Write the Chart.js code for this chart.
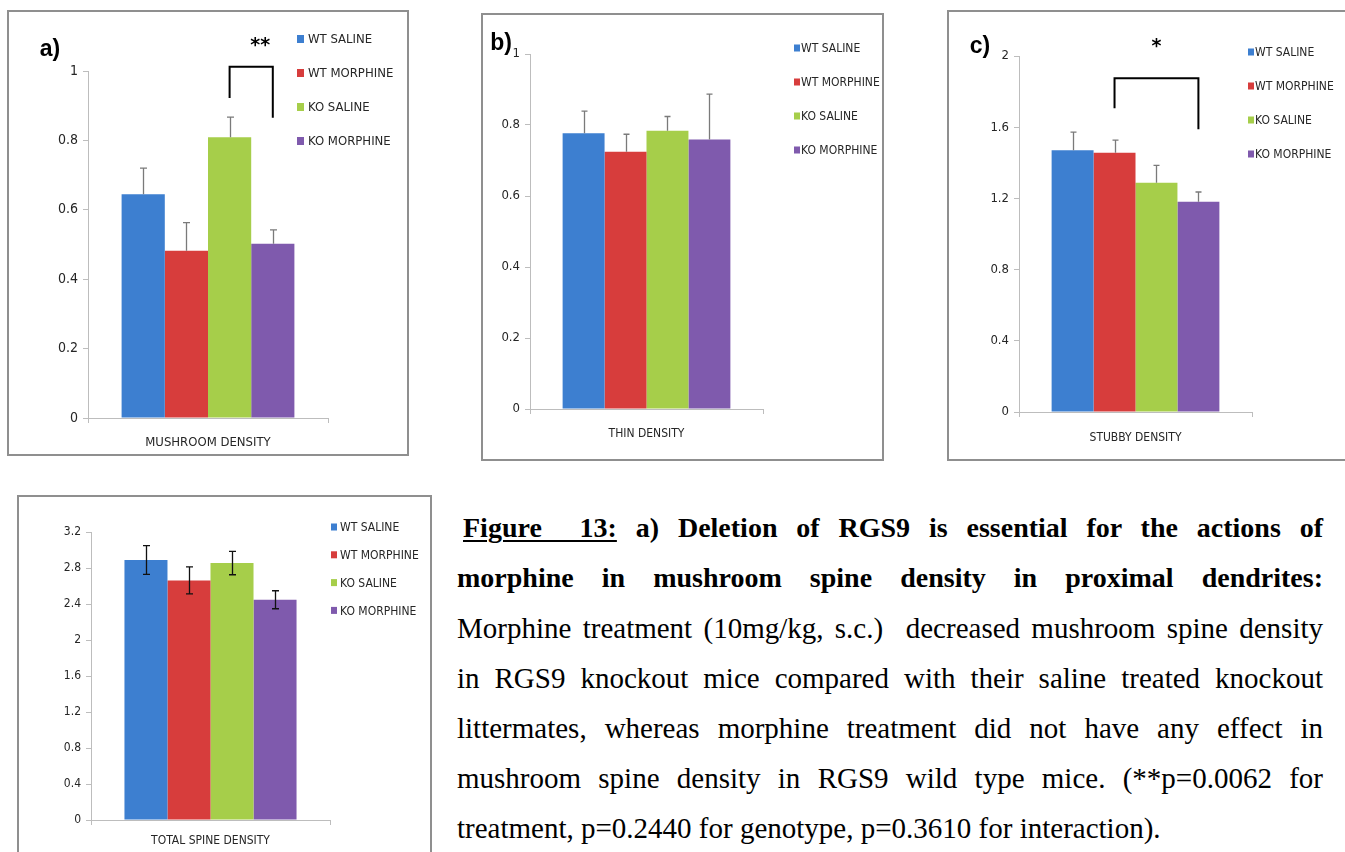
<!DOCTYPE html>
<html>
<head>
<meta charset="utf-8">
<script src="https://cdn.jsdelivr.net/npm/chart.js@4.4.1/dist/chart.umd.min.js"></script>
<style>
  html, body { margin: 0; padding: 0; background: #fff; width: 1345px; height: 852px; overflow: hidden; }
  .frame { position: absolute; box-sizing: border-box; border: 2px solid #8f8f8f; background: #fff; }
  canvas.panel { position: absolute; }
  #caption { position: absolute; left: 457px; top: 503px; width: 866px;
             font-family: 'Liberation Serif', 'Times New Roman', serif; font-size: 29px; color: #000; }
  #caption .ln { height: 50px; line-height: 50px; text-align: justify; text-align-last: justify; }
  #caption .ln.last { text-align-last: left; }
  #caption .ln.first { padding-left: 6px; }
  #caption .ln.head { font-size: 28px; font-weight: bold; }
  #caption .fig { text-decoration: underline; text-decoration-thickness: 2px; text-underline-offset: 3px; }
</style>
</head>
<body>
<div id="stage"></div>
<div id="caption">
  <div class="ln head first"><span class="fig">Figure&nbsp; 13:</span> a) Deletion of RGS9 is essential for the actions of</div>
  <div class="ln head">morphine in mushroom spine density in proximal dendrites:</div>
  <div class="ln">Morphine treatment (10mg/kg, s.c.)&nbsp; decreased mushroom spine density</div>
  <div class="ln">in RGS9 knockout mice compared with their saline treated knockout</div>
  <div class="ln">littermates, whereas morphine treatment did not have any effect in</div>
  <div class="ln">mushroom spine density in RGS9 wild type mice. (**p=0.0062 for</div>
  <div class="ln last">treatment, p=0.2440 for genotype, p=0.3610 for interaction).</div>
</div>
<script>
// ---- data ----
const groups = ['WT SALINE', 'WT MORPHINE', 'KO SALINE', 'KO MORPHINE'];

const mushroomLabel = ['MUSHROOM DENSITY'];
const mushroomMean  = [0.645, 0.482, 0.809, 0.502];
const mushroomSem   = [0.075, 0.081, 0.058, 0.040];
const mushroomTicks = [0, 0.2, 0.4, 0.6, 0.8, 1];
const mushroomSig   = { from: 2, to: 3, top: 1.012, leftEnd: 0.922, rightEnd: 0.865, mark: '**', markAt: 1.086 };

const thinLabel = ['THIN DENSITY'];
const thinMean  = [0.777, 0.725, 0.784, 0.759];
const thinSem   = [0.062, 0.049, 0.040, 0.128];
const thinTicks = [0, 0.2, 0.4, 0.6, 0.8, 1];

const stubbyLabel = ['STUBBY DENSITY'];
const stubbyMean  = [1.471, 1.456, 1.288, 1.181];
const stubbySem   = [0.101, 0.071, 0.097, 0.055];
const stubbyTicks = [0, 0.4, 0.8, 1.2, 1.6, 2];
const stubbySig   = { from: 1, to: 3, top: 1.875, leftEnd: 1.707, rightEnd: 1.589, mark: '*', markAt: 2.08 };

const totalLabel = ['TOTAL SPINE DENSITY'];
const totalMean  = [2.889, 2.662, 2.855, 2.447];
const totalSem   = [0.160, 0.150, 0.130, 0.100];
const totalTicks = [0, 0.4, 0.8, 1.2, 1.6, 2, 2.4, 2.8, 3.2];

// ---- styling ----
const groupColors = ['#3d7fd0', '#d73d3c', '#a6ce4a', '#7f5aad'];
const SANS = "'Liberation Sans Narrow', 'DejaVu Sans Condensed', 'Liberation Sans', sans-serif";
const AXIS_GRAY = '#bdbdbd';
const TEXT = '#262626';
const Y_AXIS_W = 44;
const X_AXIS_H = 30;

const fmt = v => String(Number(Number(v).toFixed(2)));

// error bars, legend, panel letter and significance bracket
const panelExtras = {
  id: 'panelExtras',
  afterDatasetsDraw(chart, args, o) {
    const ctx = chart.ctx, ys = chart.scales.y;
    ctx.save();
    ctx.strokeStyle = o.errColor;
    ctx.lineWidth = o.errWidth;
    chart.data.datasets.forEach((ds, i) => {
      const bar = chart.getDatasetMeta(i).data[0];
      const v = ds.data[0], e = ds.errors[0];
      const x = Math.round(bar.x) + 0.5;
      const yTop = ys.getPixelForValue(v + e);
      const yBot = o.errBoth ? ys.getPixelForValue(v - e) : ys.getPixelForValue(v);
      ctx.beginPath();
      ctx.moveTo(x, yBot); ctx.lineTo(x, yTop);
      ctx.moveTo(x - o.cap, yTop); ctx.lineTo(x + o.cap, yTop);
      if (o.errBoth) { ctx.moveTo(x - o.cap, yBot); ctx.lineTo(x + o.cap, yBot); }
      ctx.stroke();
    });
    ctx.restore();
  },
  afterDraw(chart, args, o) {
    const ctx = chart.ctx, ys = chart.scales.y;
    ctx.save();
    // legend
    const L = o.legend;
    ctx.font = L.font + 'px ' + SANS;
    ctx.textBaseline = 'middle';
    ctx.textAlign = 'left';
    chart.data.datasets.forEach((ds, i) => {
      const cy = L.y + i * L.dy;
      ctx.fillStyle = ds.backgroundColor;
      ctx.fillRect(L.x, cy - L.sq / 2, L.sq - 1, L.sq);
      ctx.fillStyle = TEXT;
      ctx.fillText(ds.label, L.tx, cy + 1);
    });
    // panel letter
    if (o.letter) {
      ctx.font = 'bold 23px ' + "'Liberation Sans', sans-serif";
      ctx.fillStyle = '#000';
      ctx.textAlign = 'center';
      ctx.fillText(o.letter.text, o.letter.x, o.letter.y);
    }
    // significance bracket
    if (o.sig) {
      const s = o.sig;
      const xa = chart.getDatasetMeta(s.from).data[0].x;
      const xb = chart.getDatasetMeta(s.to).data[0].x;
      const yt = ys.getPixelForValue(s.top);
      ctx.strokeStyle = '#000';
      ctx.lineWidth = 2;
      ctx.beginPath();
      ctx.moveTo(xa, ys.getPixelForValue(s.leftEnd));
      ctx.lineTo(xa, yt);
      ctx.lineTo(xb, yt);
      ctx.lineTo(xb, ys.getPixelForValue(s.rightEnd));
      ctx.stroke();
      ctx.fillStyle = '#000';
      ctx.font = 'bold 19px ' + "'DejaVu Sans', sans-serif";
      ctx.textAlign = 'center';
      ctx.fillText(s.mark, (xa + xb) / 2 + (o.markDx || 0), ys.getPixelForValue(s.markAt) + 5);
    }
    ctx.restore();
  }
};

const panels = [
  { frame: { x: 7, y: 10, w: 402, h: 446 }, plot: { l: 88, r: 328, t: 71, b: 418 },
    labels: mushroomLabel, mean: mushroomMean, err: mushroomSem, ticks: mushroomTicks, sig: mushroomSig,
    letter: { text: 'a)', x: 50, y: 50 }, markDx: 9,
    legend: { sq: 8, x: 297, tx: 308, y: 39, dy: 34, font: 13 },
    tickFont: 14, catFont: 13, catPad: 12, errBoth: false, errColor: '#7a7a7a', cap: 3.5 },
  { frame: { x: 481, y: 13, w: 403, h: 448 }, plot: { l: 530, r: 763, t: 54, b: 409 },
    labels: thinLabel, mean: thinMean, err: thinSem, ticks: thinTicks, sig: null,
    letter: { text: 'b)', x: 501, y: 44 },
    legend: { sq: 7, x: 794, tx: 801, y: 48, dy: 34, font: 12 },
    tickFont: 13, catFont: 12, catPad: 13, errBoth: false, errColor: '#7a7a7a', cap: 3 },
  { frame: { x: 947, y: 10, w: 400, h: 451 }, plot: { l: 1019, r: 1252, t: 56, b: 412 },
    labels: stubbyLabel, mean: stubbyMean, err: stubbySem, ticks: stubbyTicks, sig: stubbySig,
    letter: { text: 'c)', x: 980, y: 47 }, markDx: 0,
    legend: { sq: 7, x: 1248, tx: 1255, y: 52, dy: 34, font: 12 },
    tickFont: 13, catFont: 12, catPad: 14, errBoth: false, errColor: '#7a7a7a', cap: 3 },
  { frame: { x: 17, y: 495, w: 415, h: 372 }, plot: { l: 91, r: 330, t: 532, b: 820 },
    labels: totalLabel, mean: totalMean, err: totalSem, ticks: totalTicks, sig: null,
    letter: null,
    legend: { sq: 7, x: 331, tx: 340, y: 527, dy: 27.8, font: 12 },
    tickFont: 12, catFont: 12, catPad: 9, errBoth: true, errColor: '#111', cap: 3.5 }
];

const stage = document.getElementById('stage');

panels.forEach(p => {
  const f = p.frame;
  const canvasH = Math.min(f.h, 852 - f.y);
  const box = document.createElement('div');
  box.className = 'frame';
  Object.assign(box.style, { left: f.x + 'px', top: f.y + 'px', width: f.w + 'px', height: f.h + 'px' });
  stage.appendChild(box);

  const cv = document.createElement('canvas');
  cv.className = 'panel';
  cv.width = f.w; cv.height = canvasH;
  Object.assign(cv.style, { left: f.x + 'px', top: f.y + 'px', width: f.w + 'px', height: canvasH + 'px' });
  stage.appendChild(cv);

  const toLocal = (x, y) => ({ x: x - f.x, y: y - f.y });
  const lg = p.legend;
  const lgPos = toLocal(lg.x, lg.y);
  const legend = { sq: lg.sq, x: lgPos.x, tx: lg.tx - f.x, y: lgPos.y, dy: lg.dy, font: lg.font };
  const letter = p.letter ? { text: p.letter.text, ...toLocal(p.letter.x, p.letter.y) } : null;

  const pad = {
    left: p.plot.l - f.x - Y_AXIS_W,
    right: f.x + f.w - p.plot.r,
    top: p.plot.t - f.y,
    bottom: f.y + canvasH - p.plot.b - X_AXIS_H
  };

  new Chart(cv, {
    type: 'bar',
    data: {
      labels: p.labels,
      datasets: groups.map((g, i) => ({
        label: g,
        data: [p.mean[i]],
        errors: [p.err[i]],
        backgroundColor: groupColors[i],
        borderWidth: 0,
        categoryPercentage: 0.72,
        barPercentage: 1
      }))
    },
    options: {
      responsive: false,
      animation: false,
      devicePixelRatio: 1,
      layout: { padding: pad },
      plugins: {
        legend: { display: false },
        tooltip: { enabled: false },
        panelExtras: {
          legend, letter, sig: p.sig, markDx: p.markDx,
          errBoth: p.errBoth, errColor: p.errColor, errWidth: 1.3, cap: p.cap
        }
      },
      scales: {
        x: {
          grid: { display: true, drawOnChartArea: false, drawTicks: true, tickLength: 5, color: AXIS_GRAY, offset: true },
          border: { display: true, color: AXIS_GRAY, width: 1 },
          ticks: { font: { family: SANS, size: p.catFont }, color: TEXT, padding: p.catPad, maxRotation: 0 },
          afterFit(s) { s.height = X_AXIS_H; }
        },
        y: {
          min: p.ticks[0],
          max: p.ticks[p.ticks.length - 1],
          grid: { display: true, drawOnChartArea: false, drawTicks: true, tickLength: 5, color: AXIS_GRAY },
          border: { display: true, color: AXIS_GRAY, width: 1 },
          ticks: { font: { family: SANS, size: p.tickFont }, color: TEXT, padding: 5, callback: v => fmt(v) },
          afterBuildTicks(s) { s.ticks = p.ticks.map(v => ({ value: v })); },
          afterFit(s) { s.width = Y_AXIS_W; }
        }
      }
    },
    plugins: [panelExtras]
  });
});
</script>
</body>
</html>
